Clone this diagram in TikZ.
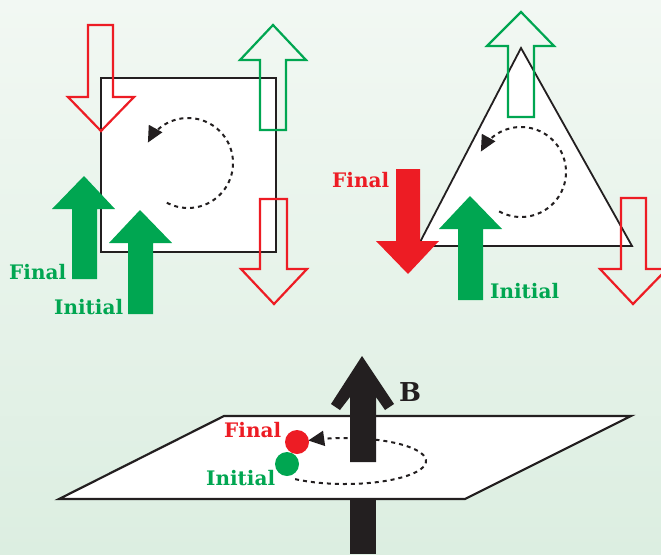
\documentclass[tikz,border=0pt]{standalone}
\usepackage{fontspec}
\setmainfont{DejaVu Serif}
\usetikzlibrary{arrows.meta}
\definecolor{myred}{HTML}{ED1C24}
\definecolor{mygreen}{HTML}{00A651}
\definecolor{myblack}{HTML}{231F20}
\definecolor{bgtop}{HTML}{F2F8F3}
\definecolor{bgbot}{HTML}{DCEEE1}
\tikzset{
  hollowred/.style={draw=myred, line width=2.2pt, line join=miter},
  hollowgreen/.style={draw=mygreen, line width=2.2pt, line join=miter},
  solidred/.style={fill=myred},
  solidgreen/.style={fill=mygreen},
  frame/.style={draw=myblack, fill=white, line width=2.2pt, line join=miter},
  orbit/.style={draw=myblack, line width=2pt, dash pattern=on 4pt off 4pt,
     -{Triangle[length=16pt,width=15pt,fill=myblack]}},
  lbl/.style={inner sep=0pt, anchor=base west, font=\fontsize{20}{24}\selectfont\bfseries},
}
\begin{document}
\begin{tikzpicture}[x=1pt,y=-1pt]
\useasboundingbox (0pt,0pt) rectangle (661pt,-554pt);
\clip (0pt,0pt) rectangle (661pt,-554pt);
\shade[top color=bgtop, bottom color=bgbot] (0pt,0pt) rectangle (661pt,-554pt);

% ---------- square ----------
\draw[frame] (101,78) rectangle (276,252);
\draw[orbit] plot[domain=118:-153, samples=80] ({188+45*cos(\x)},{163+45*sin(\x)});
\draw[hollowred] (88,25) -- (113,25) -- (113,97) -- (134,97) -- (101,131) -- (68,97) -- (88,97) -- cycle;
\draw[hollowgreen] (260,130) -- (286,130) -- (286,60) -- (306,60) -- (273,25) -- (240,60) -- (260,60) -- cycle;
\draw[hollowred] (260,199) -- (287,199) -- (287,269) -- (307,269) -- (274,304) -- (241,269) -- (260,269) -- cycle;
\fill[solidgreen] (72,279) -- (97,279) -- (97,209) -- (115,209) -- (84,176) -- (52,209) -- (72,209) -- cycle;
\fill[solidgreen] (128,314) -- (153,314) -- (153,243) -- (172,243) -- (140,210) -- (109,243) -- (128,243) -- cycle;
\node[lbl, text=mygreen] (sqfinal) at (9,279) {Final};
\node[lbl, text=mygreen] (sqinitial) at (54,314) {Initial};

% ---------- triangle ----------
\draw[frame, line width=1.8pt] (418,246) -- (632,246) -- (521,48) -- cycle;
\draw[orbit] plot[domain=119:-153, samples=80] ({521+45*cos(\x)},{172+45*sin(\x)});
\draw[hollowgreen] (508,117) -- (534,117) -- (534,46) -- (554,46) -- (521,12) -- (487,46) -- (508,46) -- cycle;
\draw[hollowred] (621,198) -- (646,198) -- (646,269) -- (667,269) -- (633,304) -- (600,269) -- (621,269) -- cycle;
\fill[solidred] (396,169) -- (420,169) -- (420,241) -- (439,241) -- (408,274) -- (376,241) -- (396,241) -- cycle;
\fill[solidgreen] (458,300) -- (483,300) -- (483,229) -- (502,229) -- (470,196) -- (439,229) -- (458,229) -- cycle;
\node[lbl, text=myred] (trfinal) at (332,187) {Final};
\node[lbl, text=mygreen] (trinitial) at (490,298) {Initial};

% ---------- plane ----------
\draw[frame] (59,499) -- (465,499) -- (631,416) -- (224,416) -- cycle;
\draw[orbit] plot[domain=128:-117, samples=100] ({345+81*cos(\x)},{461+23*sin(\x)});
\fill[mygreen] (287,464) circle[radius=12];
\fill[myred] (297,442) circle[radius=12];
\fill[myblack] (362,356) -- (394,404) -- (385,410) -- (376,397) -- (376,462) -- (350,462) -- (350,397) -- (340,410) -- (331,404) -- cycle;
\fill[myblack] (350,500) rectangle (376,554);
\node[lbl, text=myred] (plfinal) at (224,437) {Final};
\node[lbl, text=mygreen] (plinitial) at (206,485) {Initial};
\node[lbl, text=myblack, font=\fontsize{26}{30}\selectfont\bfseries] (bfield) at (399,401) {B};
\end{tikzpicture}
\end{document}
